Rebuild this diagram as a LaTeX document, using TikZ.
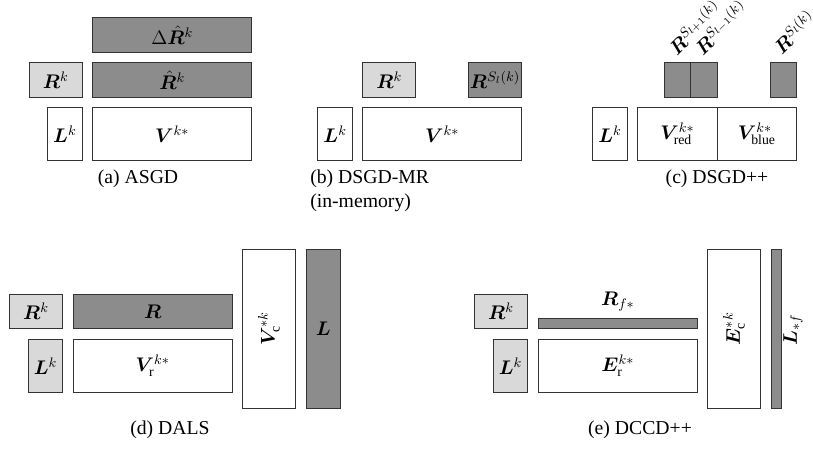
\RequirePackage{fix-cm}
\documentclass[tikz,border=0pt]{standalone}
\usepackage{amsmath,bm}
\usepackage{fontspec}
\setmainfont{Liberation Serif}
\begin{document}
\begin{tikzpicture}[x=0.66pt,y=-0.66pt, every node/.style={font=\fontsize{13}{15.2}\selectfont},
  blk/.style={draw=black!80, line width=0.5pt, inner sep=0pt},
  wbox/.style={blk, fill=white},
  lbox/.style={blk, fill=black!15},
  dbox/.style={blk, fill=black!45},
  sz/.style 2 args={minimum width=#1*0.66pt, minimum height=#2*0.66pt},
  captxt/.style={anchor=base},
  rlab/.style={rotate=45, anchor=base west, inner sep=0pt}]
  \useasboundingbox (0,0) rectangle (813,448);
  % (a) ASGD
  \node[dbox, sz={159}{35}] (dRhat) at (172.2,35) {$\Delta\hat{\bm R}^k$};
  \node[dbox, sz={159}{35}] (Rhat) at (172.2,80) {$\hat{\bm R}^k$};
  \node[lbox, sz={53}{35}] (Rka) at (55.7,80) {$\bm R^k$};
  \node[wbox, sz={35}{53}] (Lka) at (64.9,134) {$\bm L^k$};
  \node[wbox, sz={159}{53}] (Va) at (172.2,134) {$\bm V^{k*}$};
  \node[captxt] (capa) at (138,183) {(a) ASGD};
  % (b) DSGD-MR
  \node[lbox, sz={53}{35}] (Rkb) at (389.2,80) {$\bm R^k$};
  \node[dbox, sz={53}{35}] (RSb) at (495,80) {$\bm R^{S_l(k)}$};
  \node[wbox, sz={35}{53}] (Lkb) at (335.1,134) {$\bm L^k$};
  \node[wbox, sz={159}{53}] (Vb) at (442.2,134) {$\bm V^{k*}$};
  \node[align=left, anchor=north west, inner sep=0pt] (capb) at (310,170) {(b) DSGD-MR\\(in-memory)};
  % (c) DSGD++
  \node[dbox, sz={26.4}{35}] (Rc1) at (677.5,80) {};
  \node[dbox, sz={26.4}{35}] (Rc2) at (703.9,80) {};
  \node[dbox, sz={26.7}{35}] (Rc3) at (783.3,80) {};
  \node[rlab] (labc1) at (677,57) {$\bm R^{S_{l+1}(k)}$};
  \node[rlab] (labc2) at (703,57) {$\bm R^{S_{l-1}(k)}$};
  \node[rlab] (labc3) at (782,56) {$\bm R^{S_{l}(k)}$};
  \node[wbox, sz={35.4}{53}] (Lkc) at (610,134) {$\bm L^k$};
  \node[wbox, sz={79.3}{53}] (Vred) at (677.4,134) {$\bm V^{k*}_{\text{red}}$};
  \node[wbox, sz={79.7}{53}] (Vblue) at (756.9,134) {$\bm V^{k*}_{\text{blue}}$};
  \node[captxt] (capc) at (717,183) {(c) DSGD++};
  % (d) DALS
  \node[lbox, sz={53.4}{34}] (Rkd) at (36,311.3) {$\bm R^k$};
  \node[dbox, sz={158.7}{34}] (Rd) at (152.7,311.3) {$\bm R$};
  \node[lbox, sz={34.4}{53}] (Lkd) at (45.5,365.8) {$\bm L^k$};
  \node[wbox, sz={158.7}{53}] (Vr) at (152.7,365.8) {$\bm V^{k*}_{\text{r}}$};
  \node[wbox, sz={53}{158.7}] (Vc) at (268.8,328.7) {};
  \node[rotate=90] (labVc) at (Vc) {$\bm V^{*k}_{\text{c}}$};
  \node[dbox, sz={34.3}{158.7}] (Ld) at (323.2,328.7) {$\bm L$};
  \node[captxt] (capd) at (170,434) {(d) DALS};
  % (e) DCCD++
  \node[lbox, sz={53.4}{34}] (Rke) at (501,311.3) {$\bm R^k$};
  \node[dbox, sz={159}{10.4}] (Rf) at (617.8,323.5) {};
  \node (labRf) at (617.8,302) {$\bm R_{f*}$};
  \node[lbox, sz={34.4}{53}] (Lke) at (510.5,365.8) {$\bm L^k$};
  \node[wbox, sz={159}{53}] (Er) at (617.8,365.8) {$\bm E^{k*}_{\text{r}}$};
  \node[wbox, sz={53.4}{158.7}] (Ec) at (734,328.7) {};
  \node[rotate=90] (labEc) at (Ec) {$\bm E^{*k}_{\text{c}}$};
  \node[dbox, sz={10.7}{158.7}] (Lf) at (776.3,328.7) {};
  \node[rotate=90] (labLf) at (793,330) {$\bm L_{*f}$};
  \node[captxt] (cape) at (640,434) {(e) DCCD++};
\end{tikzpicture}
\end{document}
